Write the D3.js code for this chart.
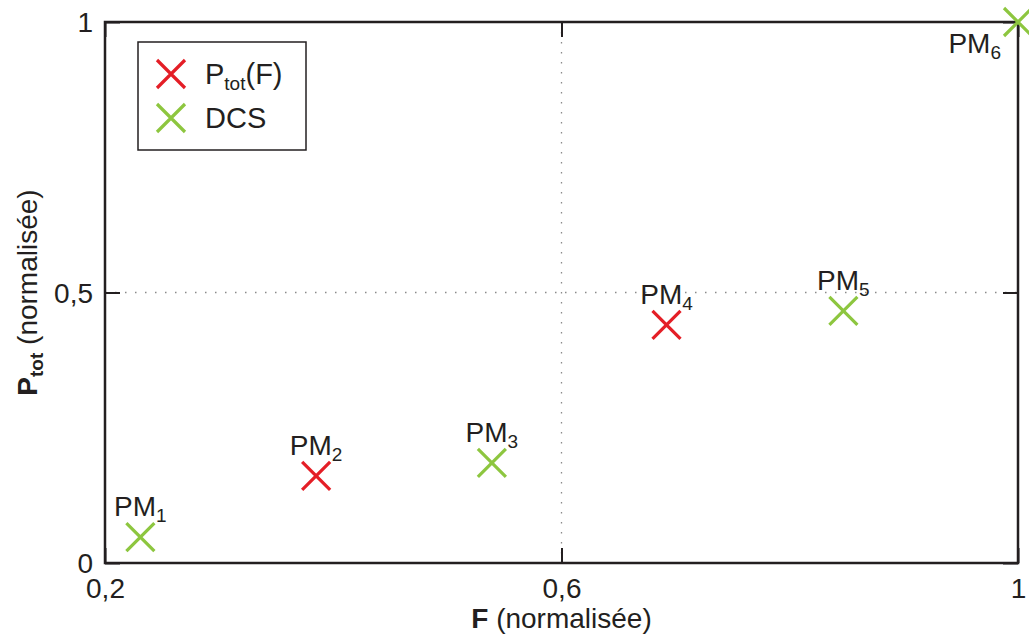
<!DOCTYPE html>
<html><head><meta charset="utf-8">
<script src="https://cdn.jsdelivr.net/npm/d3@7"></script>
<style>body{margin:0;background:#fff}svg{display:block}text{font-family:"Liberation Sans",Arial,sans-serif;fill:#231f20}</style>
</head><body><svg id="c" width="1029" height="635"></svg>
<script>
const labels = ["1","2","3","4","5","6"];
const xValues = [0.231, 0.385, 0.539, 0.692, 0.847, 1.0];
const yValues = [0.048, 0.161, 0.185, 0.44, 0.466, 1.0];
const series = ["DCS","Ptot","DCS","Ptot","DCS","DCS"];
const xTicks = [0.2, 0.6, 1];
const xTickLabels = ["0,2","0,6","1"];
const yTicks = [0, 0.5, 1];
const yTickLabels = ["0","0,5","1"];
const colors = {Ptot:"#e41e26", DCS:"#8dc63f"};

const svg = d3.select("#c");
const L=105, R=1018, T=22, B=563;
const x = d3.scaleLinear().domain([0.2,1]).range([L,R]);
const y = d3.scaleLinear().domain([0,1]).range([B,T]);
const ink="#231f20";

// grid
svg.append("line").attr("x1",x(0.6)).attr("x2",x(0.6)).attr("y1",T).attr("y2",B)
  .attr("stroke","#8a8a8a").attr("stroke-width",1.3).attr("stroke-dasharray","1.5,8.5");
svg.append("line").attr("x1",L).attr("x2",R).attr("y1",y(0.5)).attr("y2",y(0.5))
  .attr("stroke","#8a8a8a").attr("stroke-width",1.3).attr("stroke-dasharray","1.5,8.5");

// axes with inward ticks
const fs = 28;
const xb = svg.append("g").attr("transform",`translate(0,${B})`)
  .call(d3.axisBottom(x).tickValues(xTicks).tickSize(-15).tickSizeOuter(0).tickPadding(15).tickFormat((d,i)=>xTickLabels[i]));
const xt = svg.append("g").attr("transform",`translate(0,${T})`)
  .call(d3.axisTop(x).tickValues(xTicks).tickSize(-15).tickSizeOuter(0).tickFormat(""));
const yl = svg.append("g").attr("transform",`translate(${L},0)`)
  .call(d3.axisLeft(y).tickValues(yTicks).tickSize(-15).tickSizeOuter(0).tickPadding(12).tickFormat((d,i)=>yTickLabels[i]));
const yr = svg.append("g").attr("transform",`translate(${R},0)`)
  .call(d3.axisRight(y).tickValues(yTicks).tickSize(-15).tickSizeOuter(0).tickFormat(""));
[xb,xt,yl,yr].forEach(g=>{
  g.select(".domain").remove();
  g.selectAll("line").attr("stroke",ink).attr("stroke-width",2);
  g.selectAll("text").attr("font-size",fs).attr("font-family","Liberation Sans, Arial, sans-serif").attr("fill",ink);
});
xb.selectAll("text").attr("dy","0.71em");
yl.selectAll("text").attr("dy","0.35em");
// frame
svg.append("rect").attr("x",L).attr("y",T).attr("width",R-L).attr("height",B-T)
  .attr("fill","none").attr("stroke",ink).attr("stroke-width",2.5);

// axis titles
const xtitle = svg.append("text").attr("x",(L+R)/2).attr("y",628).attr("text-anchor","middle").attr("font-size",fs);
xtitle.append("tspan").attr("font-weight","bold").text("F");
xtitle.append("tspan").text(" (normalisée)");
const ytitle = svg.append("text").attr("transform",`translate(37,${(T+B)/2}) rotate(-90)`).attr("text-anchor","middle").attr("font-size",fs);
ytitle.append("tspan").attr("font-weight","bold").text("P");
ytitle.append("tspan").attr("font-weight","bold").attr("font-size",19).attr("dy",6).text("tot");
ytitle.append("tspan").attr("dy",-6).text(" (normalisée)");

// markers
const hs = 14;
function cross(g, cx, cy, col){
  g.append("path").attr("d",`M${cx-hs},${cy-hs}L${cx+hs},${cy+hs}M${cx-hs},${cy+hs}L${cx+hs},${cy-hs}`)
   .attr("stroke",col).attr("stroke-width",3.2).attr("fill","none");
}
const pts = svg.append("g");
xValues.forEach((v,i)=>cross(pts, x(v), y(yValues[i]), colors[series[i]]));

// point labels
xValues.forEach((v,i)=>{
  const last = i===xValues.length-1;
  const t = svg.append("text").attr("font-size",28)
    .attr("x", last ? x(v)-17 : x(v)).attr("y", last ? y(yValues[i])+31 : y(yValues[i])-21)
    .attr("text-anchor", last ? "end" : "middle");
  t.append("tspan").text("PM");
  t.append("tspan").attr("font-size",19).attr("dy",6).text(labels[i]);
});

// legend
const lg = svg.append("g");
lg.append("rect").attr("x",138).attr("y",42).attr("width",168).attr("height",108)
  .attr("fill","#fff").attr("stroke",ink).attr("stroke-width",1.5);
cross(lg,171,74,colors.Ptot);
cross(lg,171,118,colors.DCS);
const l1 = lg.append("text").attr("x",205).attr("y",84).attr("font-size",29);
l1.append("tspan").text("P");
l1.append("tspan").attr("font-size",19).attr("dy",6).text("tot");
l1.append("tspan").attr("dy",-6).text("(F)");
lg.append("text").attr("x",205).attr("y",128).attr("font-size",29).text("DCS");
</script></body></html>
